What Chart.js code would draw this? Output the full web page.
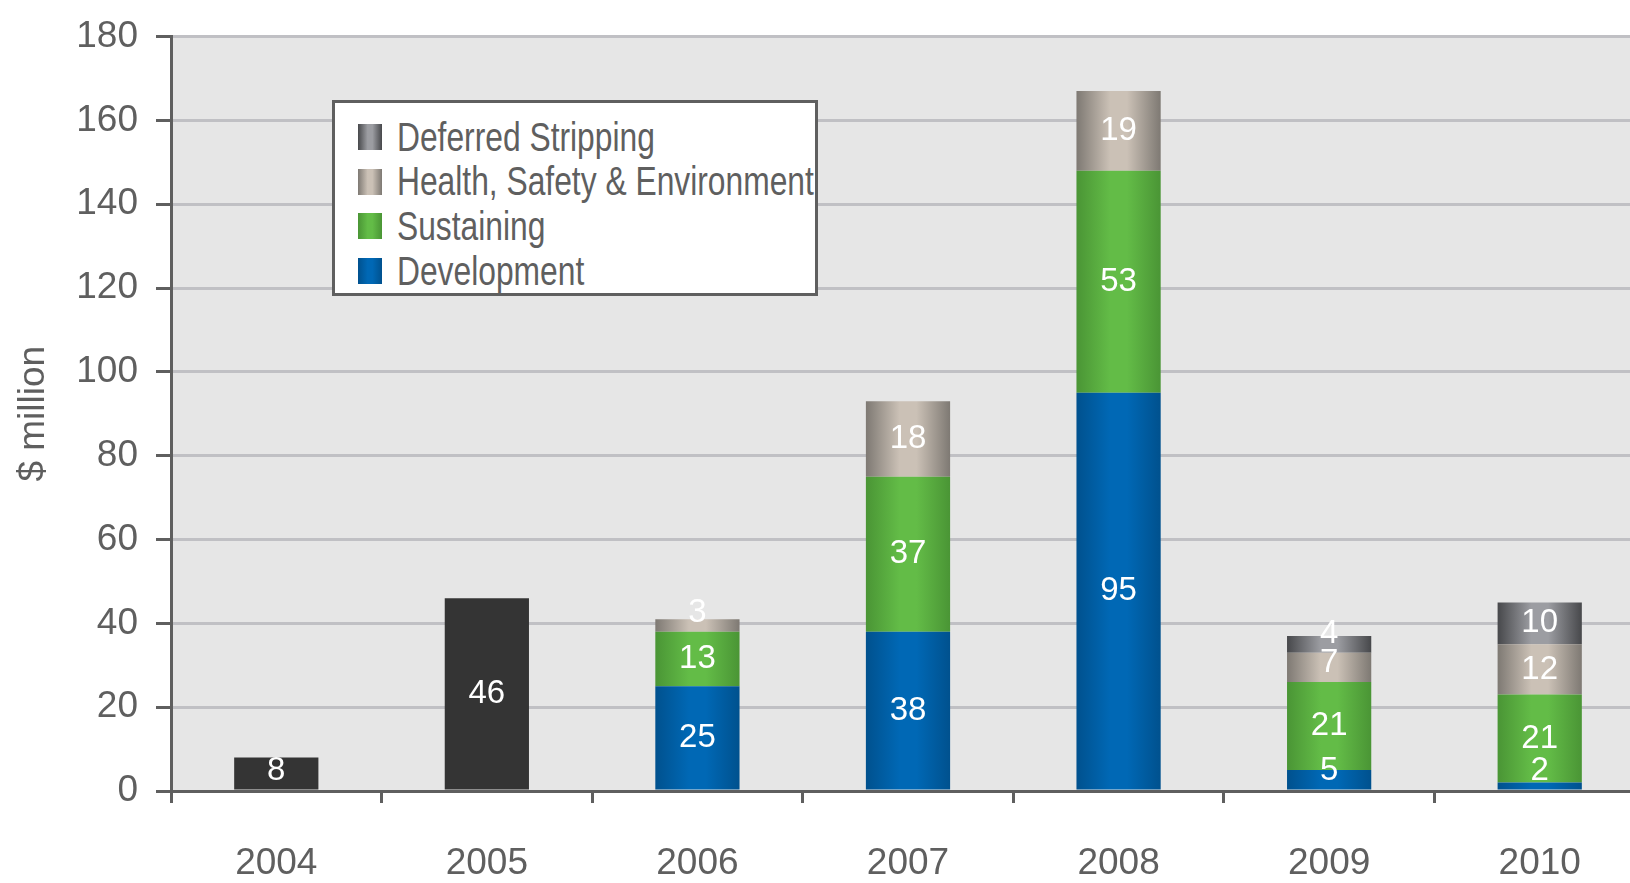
<!DOCTYPE html>
<html>
<head>
<meta charset="utf-8">
<script src="https://cdn.jsdelivr.net/npm/chart.js@4/dist/chart.umd.min.js"></script>
<style>
    html, body { margin: 0; padding: 0; background: #fff; overflow: hidden; }
    #wrap { position: relative; width: 1645px; height: 883px; }
    #legend {
        position: absolute; left: 332px; top: 100px; width: 480px; height: 190px;
        border: 3px solid #5f5f5f; background: #fff; box-sizing: content-box;
        font-family: "Liberation Sans", Arial, sans-serif;
        font-size: 41px; color: #5f5f5f;
    }
    #legend .row { position: absolute; left: 23px; height: 44px; display: flex; align-items: center; white-space: nowrap; }
    #legend .sw { width: 24px; height: 26px; margin-right: 15px; flex: none; }
    #legend .txt { display: inline-block; transform: scaleX(0.775); transform-origin: left center; }
</style>
</head>
<body>
<div id="wrap">
    <canvas id="c"></canvas>
    <div id="legend"></div>
</div>
<script>
const years = ["2004", "2005", "2006", "2007", "2008", "2009", "2010"];
const development = [null, null, 25, 38, 95, 5, 2];
const sustaining = [null, null, 13, 37, 53, 21, 21];
const hse = [null, null, 3, 18, 19, 7, 12];
const deferredStripping = [null, null, null, null, null, 4, 10];
const earlier = [8, 46, null, null, null, null, null];
const yTicks = [0, 20, 40, 60, 80, 100, 120, 140, 160, 180];

const FONT = "'Liberation Sans', Arial, sans-serif";
const INK = "#5f5f5f";
const BAR_PCT = 0.4;

// edge / centre colours for the shaded bars
const shades = {
    dev: ["#00518e", "#0068b5"],
    sus: ["#4a9535", "#63bc47"],
    hse: ["#7e7973", "#cbc1b6"],
    def: ["#47484b", "#9c9da2"],
};

function shaded(key) {
    const [edge, mid] = shades[key];
    return (ctx) => {
        const x = ctx.chart.scales && ctx.chart.scales.x;
        if (ctx.type !== "data" || !x || !x.width) return edge;
        const cx = x.getPixelForValue(ctx.dataIndex);
        const half = (x.width / years.length) * BAR_PCT / 2;
        const g = ctx.chart.ctx.createLinearGradient(cx - half, 0, cx + half, 0);
        g.addColorStop(0, edge);
        g.addColorStop(0.4, mid);
        g.addColorStop(0.6, mid);
        g.addColorStop(1, edge);
        return g;
    };
}

const plotBg = {
    id: "plotBg",
    beforeDraw(chart) {
        const { ctx, chartArea: a } = chart;
        ctx.save();
        ctx.fillStyle = "#e6e6e6";
        ctx.fillRect(a.left, a.top, a.right - a.left, a.bottom - a.top);
        ctx.restore();
    },
};

const barLabels = {
    id: "barLabels",
    afterDatasetsDraw(chart) {
        const { ctx } = chart;
        ctx.save();
        ctx.fillStyle = "#fff";
        ctx.font = "33px " + FONT;
        ctx.textAlign = "center";
        ctx.textBaseline = "middle";
        chart.data.datasets.forEach((ds, di) => {
            chart.getDatasetMeta(di).data.forEach((el, i) => {
                const v = ds.data[i];
                if (v == null) return;
                const p = el.getProps(["x", "y", "base"], true);
                const y = Math.min((p.y + p.base) / 2, p.base - 19);
                ctx.fillText(String(v), p.x, y);
            });
        });
        ctx.restore();
    },
};

const chart = new Chart(document.getElementById("c"), {
    type: "bar",
    data: {
        labels: years,
        datasets: [
            { label: "Development", data: development, backgroundColor: shaded("dev"), swatch: shades.dev },
            { label: "Sustaining", data: sustaining, backgroundColor: shaded("sus"), swatch: shades.sus },
            { label: "Health, Safety & Environment", data: hse, backgroundColor: shaded("hse"), swatch: shades.hse },
            { label: "Deferred Stripping", data: deferredStripping, backgroundColor: shaded("def"), swatch: shades.def },
            { label: "", data: earlier, backgroundColor: "#343434" },
        ],
    },
    options: {
        responsive: true,
        maintainAspectRatio: false,
        animation: false,
        layout: { autoPadding: false, padding: { top: 33, right: 0, left: 0, bottom: 0 } },
        datasets: { bar: { barPercentage: BAR_PCT, categoryPercentage: 1, borderWidth: 0 } },
        plugins: { legend: { display: false }, tooltip: { enabled: false } },
        scales: {
            x: {
                stacked: true,
                offset: true,
                border: { display: true, color: INK, width: 3 },
                grid: { offset: true, drawOnChartArea: false, tickColor: INK, tickLength: 12, tickWidth: 3 },
                ticks: { color: INK, font: { family: FONT, size: 37, lineHeight: 1 }, padding: 42, maxRotation: 0 },
                afterFit(s) { s.height = 92; },
            },
            y: {
                stacked: true,
                min: 0,
                max: 180,
                afterBuildTicks(s) { s.ticks = yTicks.map((v) => ({ value: v })); },
                border: { display: true, color: INK, width: 3 },
                grid: { color: "#c0c0c4", lineWidth: 3, tickColor: INK, tickLength: 15, tickWidth: 3 },
                ticks: { color: INK, font: { family: FONT, size: 37, lineHeight: 1 }, padding: 18 },
                title: { display: true, text: "$ million", color: INK, font: { family: FONT, size: 37 }, padding: { top: 12, bottom: 0 } },
                afterFit(s) { s.width = 171; },
            },
        },
    },
    plugins: [plotBg, barLabels],
});

// html legend, top series first
const legend = document.getElementById("legend");
chart.data.datasets.filter((d) => d.label).reverse().forEach((d, i) => {
    const row = document.createElement("div");
    row.className = "row";
    row.style.top = (12 + i * 44.7) + "px";
    const sw = document.createElement("span");
    sw.className = "sw";
    sw.style.background = `linear-gradient(to right, ${d.swatch[0]}, ${d.swatch[1]} 40%, ${d.swatch[1]} 60%, ${d.swatch[0]})`;
    const txt = document.createElement("span");
    txt.className = "txt";
    txt.textContent = d.label;
    row.appendChild(sw);
    row.appendChild(txt);
    legend.appendChild(row);
});
</script>
</body>
</html>
